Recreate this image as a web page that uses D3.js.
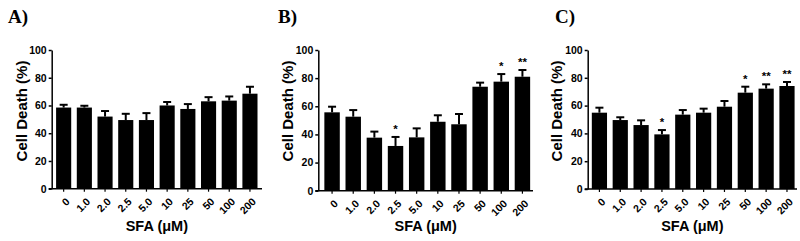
<!DOCTYPE html>
<html lang="en">
<head>
  <meta charset="UTF-8">
  <title>Cell Death vs SFA</title>
  <script src="https://d3js.org/d3.v7.min.js"></script>
  <style>
    body { margin: 0; background: #fff; }
    text { font-family: "Liberation Sans", Arial, sans-serif; font-weight: bold; fill: #000; }
    .panel-label { font-family: "Liberation Serif", "Times New Roman", serif; font-size: 19px; }
  </style>
</head>
<body>
<script>
  // doses on the x axis (same for all three panels)
  const doses = ["0", "1.0", "2.0", "2.5", "5.0", "10", "25", "50", "100", "200"];
  const yTicks = [0, 20, 40, 60, 80, 100];

  // panel A
  const aMean = [58.5, 58.5, 52, 49.5, 49.5, 60, 57.5, 63, 63.5, 68.5];
  const aErr  = [2, 1.3, 4, 4.5, 5, 2.5, 3.5, 3, 3, 5];
  const aSig  = ["", "", "", "", "", "", "", "", "", ""];

  // panel B
  const bMean = [55.7, 52.6, 37.7, 31.8, 37.9, 49, 47.2, 73.9, 77.5, 81];
  const bErr  = [4, 4.7, 4.3, 6.4, 6.4, 4.6, 7.3, 2.9, 5.4, 4.8];
  const bSig  = ["", "", "", "*", "", "", "", "", "*", "**"];

  // panel C
  const cMean = [54.9, 49.6, 46, 39.3, 53.5, 54.9, 59.2, 69.3, 72.2, 74.1];
  const cErr  = [3.6, 2, 3.4, 3.1, 3.3, 2.9, 4.1, 4.3, 3.1, 2.9];
  const cSig  = ["", "", "", "*", "", "", "", "*", "**", "**"];

  const width = 800, height = 241;

  const svg = d3.select("body").append("svg")
    .attr("width", width)
    .attr("height", height);

  // one panel: axis position, plot extent and the series
  function drawPanel(p) {
    const g = svg.append("g");

    const x = d3.scaleBand()
      .domain(doses)
      .range([p.bandStart, p.bandStart + p.step * doses.length])
      .paddingInner(0.27)
      .paddingOuter(0.135);

    const y = d3.scaleLinear()
      .domain([0, 100])
      .range([p.yBottom, p.yTop]);

    const data = doses.map((d, i) => ({ dose: d, mean: p.mean[i], err: p.err[i], sig: p.sig[i] }));

    // bars
    g.selectAll("rect.bar")
      .data(data)
      .enter().append("rect")
      .attr("class", "bar")
      .attr("x", d => x(d.dose))
      .attr("width", x.bandwidth())
      .attr("y", d => y(d.mean))
      .attr("height", d => y(0) - y(d.mean))
      .attr("fill", "#000");

    // error bars (upper only)
    g.selectAll("line.err")
      .data(data)
      .enter().append("line")
      .attr("class", "err")
      .attr("x1", d => x(d.dose) + x.bandwidth() / 2)
      .attr("x2", d => x(d.dose) + x.bandwidth() / 2)
      .attr("y1", d => y(d.mean))
      .attr("y2", d => y(d.mean + d.err))
      .attr("stroke", "#000")
      .attr("stroke-width", 2);

    g.selectAll("line.cap")
      .data(data)
      .enter().append("line")
      .attr("class", "cap")
      .attr("x1", d => x(d.dose) + x.bandwidth() / 2 - 4)
      .attr("x2", d => x(d.dose) + x.bandwidth() / 2 + 4)
      .attr("y1", d => y(d.mean + d.err))
      .attr("y2", d => y(d.mean + d.err))
      .attr("stroke", "#000")
      .attr("stroke-width", 2);

    // significance stars
    g.selectAll("text.sig")
      .data(data.filter(d => d.sig))
      .enter().append("text")
      .attr("class", "sig")
      .attr("x", d => x(d.dose) + x.bandwidth() / 2)
      .attr("y", d => y(d.mean + d.err) - 4)
      .attr("text-anchor", "middle")
      .style("font-size", "11.5px")
      .text(d => d.sig);

    // y axis
    const yAxis = d3.axisLeft(y).tickValues(yTicks).tickSize(3).tickSizeOuter(0);
    const yg = g.append("g")
      .attr("transform", "translate(" + p.axisX + ",0)")
      .call(yAxis);
    yg.select(".domain").attr("stroke-width", 1.5);
    yg.selectAll(".tick line").attr("stroke-width", 1.5);
    yg.selectAll(".tick text")
      .attr("x", -5)
      .style("font-size", "10.5px")
      .style("font-family", "'Liberation Sans', Arial, sans-serif")
      .style("font-weight", "bold");

    // x axis
    g.append("line")
      .attr("x1", p.axisX - 3)
      .attr("x2", p.axisEnd)
      .attr("y1", y(0))
      .attr("y2", y(0))
      .attr("stroke", "#000")
      .attr("stroke-width", 1.5);

    const xAxis = d3.axisBottom(x).tickSize(3).tickSizeOuter(0);
    const xg = g.append("g")
      .attr("transform", "translate(0," + y(0) + ")")
      .call(xAxis);
    xg.select(".domain").remove();
    xg.selectAll(".tick line").attr("stroke-width", 1.2);
    xg.selectAll(".tick text")
      .attr("text-anchor", "end")
      .attr("x", 0)
      .attr("y", 0)
      .attr("dy", "0.35em")
      .attr("transform", "translate(4,11) rotate(-45)")
      .style("font-size", "10.5px")
      .style("font-family", "'Liberation Sans', Arial, sans-serif")
      .style("font-weight", "bold");

    // axis titles
    g.append("text")
      .attr("transform", "translate(" + p.titleX + "," + (p.yTop + 61) + ") rotate(-90)")
      .attr("text-anchor", "middle")
      .attr("dy", "0.35em")
      .style("font-size", "15px")
      .text("Cell Death (%)");

    g.append("text")
      .attr("x", (p.axisX + p.axisEnd) / 2)
      .attr("y", 231)
      .attr("text-anchor", "middle")
      .style("font-size", "14.5px")
      .text("SFA (\u03BCM)");

    // panel letter
    g.append("text")
      .attr("class", "panel-label")
      .attr("x", p.labelX)
      .attr("y", 23)
      .text(p.label);
  }

  drawPanel({ label: "A)", labelX: 8, axisX: 51.7, axisEnd: 262, bandStart: 53.3, step: 20.7,
    yTop: 50, yBottom: 188.7, titleX: 22, mean: aMean, err: aErr, sig: aSig });
  drawPanel({ label: "B)", labelX: 278, axisX: 318.3, axisEnd: 533, bandStart: 321.5, step: 21.15,
    yTop: 50, yBottom: 190.7, titleX: 288, mean: bMean, err: bErr, sig: bSig });
  drawPanel({ label: "C)", labelX: 555, axisX: 587.7, axisEnd: 797, bandStart: 589, step: 20.84,
    yTop: 50, yBottom: 189, titleX: 557, mean: cMean, err: cErr, sig: cSig });
</script>
</body>
</html>
